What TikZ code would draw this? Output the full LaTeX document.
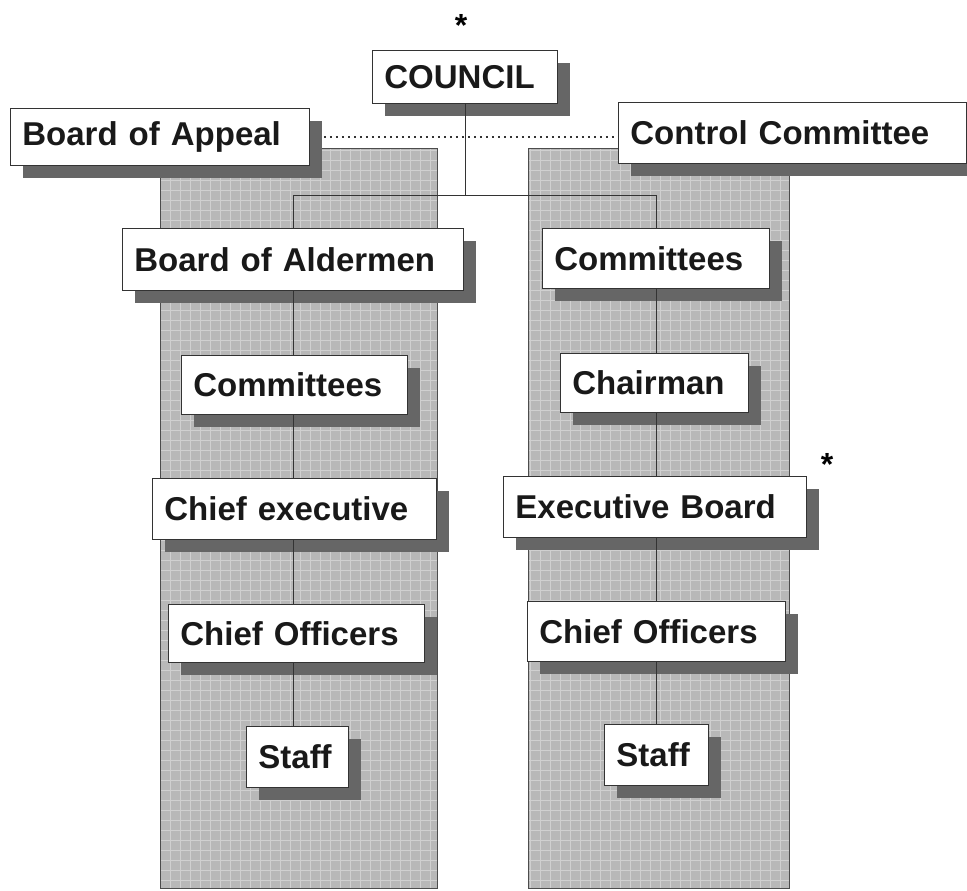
\documentclass[tikz,border=0pt]{standalone}
\usepackage{fontspec}
\setmainfont{Liberation Sans}[WordSpace=0.7]
\usetikzlibrary{shadows}
\definecolor{colfill}{gray}{0.72}
\definecolor{shadefill}{gray}{0.40}
\tikzset{
    orgbox/.style={draw=black!80,fill=white,anchor=north west,inner xsep=6pt,inner ysep=0pt,
        align=left,text=black!90,font=\bfseries\fontsize{16.5pt}{18pt}\selectfont,
        drop shadow={shadow xshift=6.5pt,shadow yshift=-6.5pt,fill=shadefill,opacity=1}},
    starmark/.style={anchor=base,inner sep=0pt,font=\bfseries\fontsize{16pt}{18pt}\selectfont}
}
\begin{document}
\begin{tikzpicture}[x=0.5pt,y=-0.5pt]
            \useasboundingbox (0,0) rectangle (967,890);
            \foreach \cx/\cw in {160/277,528/261}{
                \fill[colfill] (\cx,148) rectangle ++(\cw,740);
                \draw[white,opacity=0.35,line width=0.4pt,step=5pt] (\cx,148) grid ++(\cw,740);
                \draw[black!70] (\cx,148) rectangle ++(\cw,740);
            }
            \foreach \n/\x/\y/\w/\h/\t in {council/372/50/185/53/COUNCIL,
                    boa/10/108/299/57/Board of Appeal, cc/618/102/348/61/Control Committee,
                    ald/122/228/341/62/Board of Aldermen, cmr/542/228/227/60/Committees,
                    cml/181/355/226/59/Committees, chr/560/353/188/59/Chairman,
                    cel/152/478/284/61/Chief executive, ebr/503/476/303/61/Executive Board,
                    col/168/604/256/58/Chief Officers, cor/527/601/258/60/Chief Officers,
                    stl/246/726/102/61/Staff, str/604/724/104/61/Staff}{
                \pgfmathsetmacro\tw{\w*0.5-12}
                \pgfmathsetmacro\th{\h*0.5}
                \node[orgbox,text width=\tw pt,minimum height=\th pt] (\n) at (\x,\y) {\t};
            }
            \node[starmark] (stc) at (461,36) {*};
            \node[starmark] (ste) at (827,475) {*};
            \path (council.south) ++(0,92) coordinate (split);
            \draw[black!80] (council.south) -- (split);
            \draw[black!80] (ald.north) |- (split) -| (cmr.north);
            \draw[black!80,dotted,line width=1pt] ([xshift=7pt]boa.east) -- (cc.west |- boa.east);
            \foreach \a/\b in {ald/cml,cml/cel,cel/col,col/stl}
                \draw[black!80] (ald.south |- \a.south) -- (ald.south |- \b.north);
            \foreach \a/\b in {cmr/chr,chr/ebr,ebr/cor,cor/str}
                \draw[black!80] (cmr.south |- \a.south) -- (cmr.south |- \b.north);
        \end{tikzpicture}
\end{document}
